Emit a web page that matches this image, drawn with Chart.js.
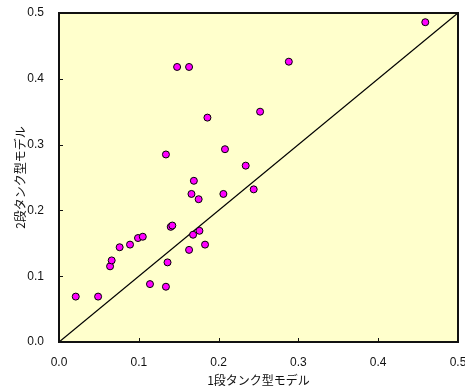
<!DOCTYPE html>
<html>
<head>
<meta charset="utf-8">
<script src="https://cdn.jsdelivr.net/npm/chart.js@4/dist/chart.umd.min.js"></script>
<style>
  html, body { margin: 0; padding: 0; background: #fff; }
  #wrap { width: 465px; height: 392px; }
</style>
</head>
<body>
<div id="wrap"><canvas id="c" width="465" height="392"></canvas></div>
<script>
// Runoff coefficients: single-stage tank model (x) vs two-stage tank model (y)
const oneStage = [0.021, 0.049, 0.064, 0.066, 0.076, 0.089, 0.099, 0.105, 0.114, 0.134,
                  0.136, 0.140, 0.142, 0.163, 0.168, 0.176, 0.183, 0.148, 0.163, 0.186,
                  0.252, 0.134, 0.208, 0.234, 0.169, 0.166, 0.175, 0.206, 0.244, 0.288,
                  0.459];
const twoStage = [0.069, 0.069, 0.115, 0.124, 0.144, 0.148, 0.158, 0.160, 0.088, 0.084,
                  0.121, 0.175, 0.177, 0.140, 0.163, 0.169, 0.148, 0.418, 0.418, 0.341,
                  0.350, 0.285, 0.293, 0.268, 0.245, 0.225, 0.217, 0.225, 0.232, 0.426,
                  0.486];
// 1:1 reference line
const identityLine = [0, 0.5];
const axisTicks = [0, 0.1, 0.2, 0.3, 0.4, 0.5];

const xTitle = '1段タンク型モデル';
const yTitle = '2段タンク型モデル';

const points = oneStage.map((x, i) => ({ x: x, y: twoStage[i] }));
const linePts = identityLine.map(v => ({ x: v, y: v }));

const tickFont = { family: "'Liberation Sans', Arial, sans-serif", size: 12 };
const titleFont = { family: "'Noto Sans CJK JP', sans-serif", size: 12 };

// Pale plot background, frame and inward tick marks
const plotFrame = {
  id: 'plotFrame',
  beforeDatasetsDraw(chart) {
    const { ctx, chartArea: a } = chart;
    ctx.save();
    ctx.fillStyle = '#FFFFCC';
    ctx.fillRect(a.left, a.top, a.right - a.left, a.bottom - a.top);
    ctx.restore();
  },
  afterDatasetsDraw(chart) {
    const { ctx, chartArea: a, scales } = chart;
    ctx.save();
    ctx.strokeStyle = '#111';
    ctx.lineWidth = 1;
    ctx.beginPath();
    scales.x.ticks.forEach((t, i) => {
      const px = Math.round(scales.x.getPixelForTick(i)) + 0.5;
      ctx.moveTo(px, a.bottom);
      ctx.lineTo(px, a.bottom - 4);
    });
    scales.y.ticks.forEach((t, i) => {
      const py = Math.round(scales.y.getPixelForTick(i)) + 0.5;
      ctx.moveTo(a.left, py);
      ctx.lineTo(a.left + 4, py);
    });
    ctx.stroke();
    ctx.lineWidth = 2;
    ctx.strokeRect(a.left, a.top, a.right - a.left, a.bottom - a.top);
    ctx.restore();
  }
};

new Chart(document.getElementById('c'), {
  type: 'scatter',
  data: {
    datasets: [
      {
        label: 'data',
        data: points,
        backgroundColor: '#FF00FF',
        borderColor: '#000',
        borderWidth: 1,
        pointRadius: 3.5,
        pointHoverRadius: 3.5
      },
      {
        type: 'line',
        label: '1:1',
        data: linePts,
        borderColor: '#000',
        borderWidth: 1.3,
        pointRadius: 0,
        fill: false
      }
    ]
  },
  options: {
    responsive: false,
    animation: false,
    events: [],
    layout: { padding: { left: 0, right: 7, top: 13, bottom: 0 } },
    plugins: {
      legend: { display: false },
      tooltip: { enabled: false }
    },
    scales: {
      x: {
        type: 'linear',
        min: 0, max: 0.5,
        afterBuildTicks(s) { s.ticks = axisTicks.map(v => ({ value: v })); },
        afterFit(s) { s.height = 50; s.paddingLeft = 0; s.paddingRight = 0; },
        grid: { display: false, drawTicks: false },
        border: { display: false },
        ticks: {
          font: tickFont, color: '#111', padding: 13,
          maxRotation: 0,
          callback: v => v.toFixed(1)
        },
        title: {
          display: true, text: xTitle, font: titleFont, color: '#111',
          padding: { top: 0, bottom: 4 }
        }
      },
      y: {
        type: 'linear',
        min: 0, max: 0.5,
        afterBuildTicks(s) { s.ticks = axisTicks.map(v => ({ value: v })); },
        afterFit(s) { s.width = 59; s.paddingTop = 0; s.paddingBottom = 0; },
        grid: { display: false, drawTicks: false },
        border: { display: false },
        ticks: {
          font: tickFont, color: '#111', padding: 15,
          callback: v => v.toFixed(1)
        },
        title: {
          display: true, text: yTitle, font: titleFont, color: '#111',
          padding: { top: 13, bottom: 0 }
        }
      }
    }
  },
  plugins: [plotFrame]
});
</script>
</body>
</html>
